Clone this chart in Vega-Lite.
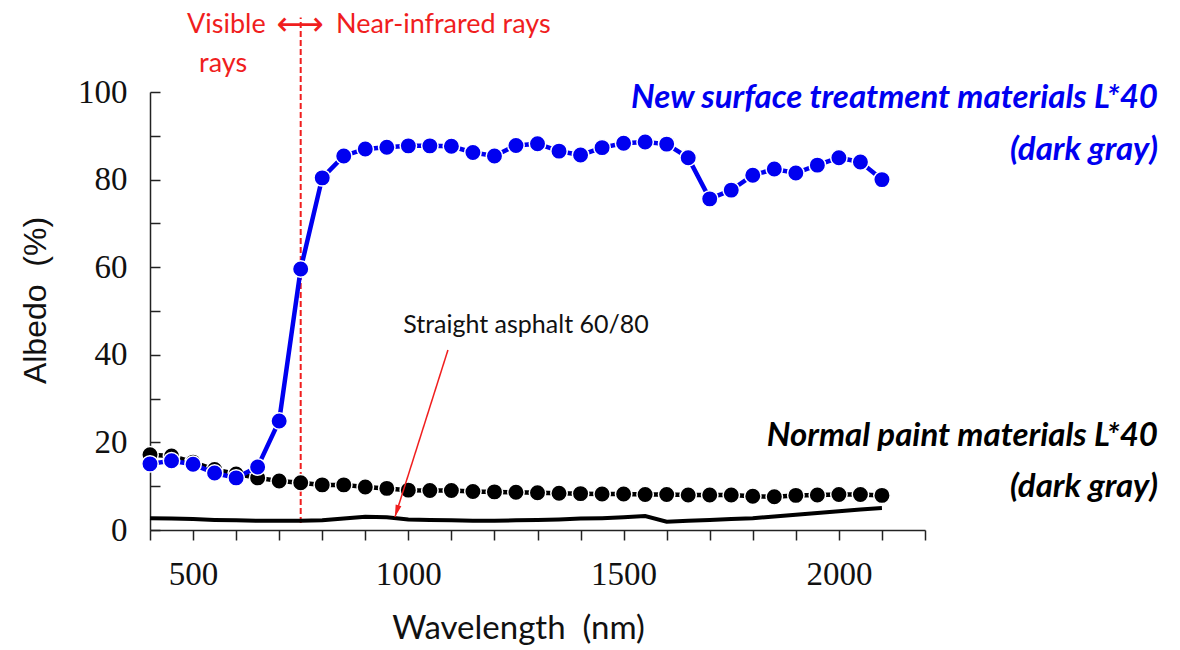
{
  "$schema": "https://vega.github.io/schema/vega-lite/v6.json",
  "width": 775,
  "height": 438,
  "autosize": {"type": "none"},
  "padding": {"left": 150, "top": 92, "right": 255, "bottom": 120},
  "background": "white",
  "config": {
    "view": {"stroke": null},
    "axis": {"grid": false, "domainColor": "#222", "tickColor": "#222", "domainWidth": 1.5, "tickWidth": 1.5, "labelColor": "#111", "titleColor": "#111", "labelFlush": false, "labelOverlap": false}
  },
  "datasets": {
    "series": [
      {"wl": 400, "val": 15.1, "s": "new"}, {"wl": 450, "val": 15.8, "s": "new"}, {"wl": 500, "val": 15.0, "s": "new"}, {"wl": 550, "val": 13.0, "s": "new"}, {"wl": 600, "val": 11.9, "s": "new"}, {"wl": 650, "val": 14.4, "s": "new"}, {"wl": 700, "val": 24.9, "s": "new"}, {"wl": 750, "val": 59.6, "s": "new"}, {"wl": 800, "val": 80.4, "s": "new"}, {"wl": 850, "val": 85.4, "s": "new"}, {"wl": 900, "val": 87.0, "s": "new"}, {"wl": 950, "val": 87.4, "s": "new"}, {"wl": 1000, "val": 87.7, "s": "new"}, {"wl": 1050, "val": 87.7, "s": "new"}, {"wl": 1100, "val": 87.6, "s": "new"}, {"wl": 1150, "val": 86.2, "s": "new"}, {"wl": 1200, "val": 85.4, "s": "new"}, {"wl": 1250, "val": 87.8, "s": "new"}, {"wl": 1300, "val": 88.2, "s": "new"}, {"wl": 1350, "val": 86.5, "s": "new"}, {"wl": 1400, "val": 85.6, "s": "new"}, {"wl": 1450, "val": 87.3, "s": "new"}, {"wl": 1500, "val": 88.3, "s": "new"}, {"wl": 1550, "val": 88.6, "s": "new"}, {"wl": 1600, "val": 88.1, "s": "new"}, {"wl": 1650, "val": 85.0, "s": "new"}, {"wl": 1700, "val": 75.6, "s": "new"}, {"wl": 1750, "val": 77.6, "s": "new"}, {"wl": 1800, "val": 81.0, "s": "new"}, {"wl": 1850, "val": 82.4, "s": "new"}, {"wl": 1900, "val": 81.5, "s": "new"}, {"wl": 1950, "val": 83.3, "s": "new"}, {"wl": 2000, "val": 85.0, "s": "new"}, {"wl": 2050, "val": 84.0, "s": "new"}, {"wl": 2100, "val": 80.0, "s": "new"},
      {"wl": 400, "val": 17.2, "s": "normal"}, {"wl": 450, "val": 16.9, "s": "normal"}, {"wl": 500, "val": 15.5, "s": "normal"}, {"wl": 550, "val": 13.8, "s": "normal"}, {"wl": 600, "val": 12.8, "s": "normal"}, {"wl": 650, "val": 11.9, "s": "normal"}, {"wl": 700, "val": 11.2, "s": "normal"}, {"wl": 750, "val": 10.8, "s": "normal"}, {"wl": 800, "val": 10.3, "s": "normal"}, {"wl": 850, "val": 10.3, "s": "normal"}, {"wl": 900, "val": 9.8, "s": "normal"}, {"wl": 950, "val": 9.5, "s": "normal"}, {"wl": 1000, "val": 9.1, "s": "normal"}, {"wl": 1050, "val": 9.0, "s": "normal"}, {"wl": 1100, "val": 9.0, "s": "normal"}, {"wl": 1150, "val": 8.8, "s": "normal"}, {"wl": 1200, "val": 8.7, "s": "normal"}, {"wl": 1250, "val": 8.6, "s": "normal"}, {"wl": 1300, "val": 8.5, "s": "normal"}, {"wl": 1350, "val": 8.4, "s": "normal"}, {"wl": 1400, "val": 8.3, "s": "normal"}, {"wl": 1450, "val": 8.2, "s": "normal"}, {"wl": 1500, "val": 8.2, "s": "normal"}, {"wl": 1550, "val": 8.1, "s": "normal"}, {"wl": 1600, "val": 8.1, "s": "normal"}, {"wl": 1650, "val": 8.0, "s": "normal"}, {"wl": 1700, "val": 8.0, "s": "normal"}, {"wl": 1750, "val": 8.0, "s": "normal"}, {"wl": 1800, "val": 7.7, "s": "normal"}, {"wl": 1850, "val": 7.6, "s": "normal"}, {"wl": 1900, "val": 7.9, "s": "normal"}, {"wl": 1950, "val": 8.0, "s": "normal"}, {"wl": 2000, "val": 8.1, "s": "normal"}, {"wl": 2050, "val": 8.1, "s": "normal"}, {"wl": 2100, "val": 7.9, "s": "normal"},
      {"wl": 400, "val": 2.7, "s": "asphalt"}, {"wl": 450, "val": 2.6, "s": "asphalt"}, {"wl": 500, "val": 2.5, "s": "asphalt"}, {"wl": 550, "val": 2.3, "s": "asphalt"}, {"wl": 600, "val": 2.2, "s": "asphalt"}, {"wl": 650, "val": 2.1, "s": "asphalt"}, {"wl": 700, "val": 2.1, "s": "asphalt"}, {"wl": 750, "val": 2.1, "s": "asphalt"}, {"wl": 800, "val": 2.2, "s": "asphalt"}, {"wl": 850, "val": 2.6, "s": "asphalt"}, {"wl": 900, "val": 3.0, "s": "asphalt"}, {"wl": 950, "val": 2.9, "s": "asphalt"}, {"wl": 1000, "val": 2.4, "s": "asphalt"}, {"wl": 1050, "val": 2.3, "s": "asphalt"}, {"wl": 1100, "val": 2.2, "s": "asphalt"}, {"wl": 1150, "val": 2.1, "s": "asphalt"}, {"wl": 1200, "val": 2.1, "s": "asphalt"}, {"wl": 1250, "val": 2.2, "s": "asphalt"}, {"wl": 1300, "val": 2.3, "s": "asphalt"}, {"wl": 1350, "val": 2.4, "s": "asphalt"}, {"wl": 1400, "val": 2.6, "s": "asphalt"}, {"wl": 1450, "val": 2.7, "s": "asphalt"}, {"wl": 1500, "val": 2.9, "s": "asphalt"}, {"wl": 1550, "val": 3.2, "s": "asphalt"}, {"wl": 1600, "val": 1.9, "s": "asphalt"}, {"wl": 1650, "val": 2.1, "s": "asphalt"}, {"wl": 1700, "val": 2.3, "s": "asphalt"}, {"wl": 1750, "val": 2.5, "s": "asphalt"}, {"wl": 1800, "val": 2.7, "s": "asphalt"}, {"wl": 1850, "val": 3.1, "s": "asphalt"}, {"wl": 1900, "val": 3.5, "s": "asphalt"}, {"wl": 1950, "val": 3.9, "s": "asphalt"}, {"wl": 2000, "val": 4.3, "s": "asphalt"}, {"wl": 2050, "val": 4.7, "s": "asphalt"}, {"wl": 2100, "val": 5.0, "s": "asphalt"}
    ],
    "redtext": [
      {"t": "Visible", "x": 486, "y": 115.3},
      {"t": "rays", "x": 514, "y": 106.5},
      {"t": "Near-infrared rays", "x": 832, "y": 115.3}
    ],
    "bluetext": [
      {"t": "New surface treatment materials L*40", "x": 2741, "y": 98.6},
      {"t": "(dark gray)", "x": 2741, "y": 86.8}
    ],
    "blacktext": [
      {"t": "Normal paint materials L*40", "x": 2741, "y": 21.5},
      {"t": "(dark gray)", "x": 2741, "y": 9.8}
    ]
  },
  "layer": [
    {
      "data": {"values": [{"x": 750, "y": 1.6, "y2": 117}]},
      "mark": {"type": "rule", "color": "#f01e1e", "strokeWidth": 2, "strokeDash": [6, 3]},
      "encoding": {
        "x": {"field": "x", "type": "quantitative", "scale": {"domain": [400, 2200], "nice": false, "zero": false},
          "axis": {"values": [400, 500, 600, 700, 800, 900, 1000, 1100, 1200, 1300, 1400, 1500, 1600, 1700, 1800, 1900, 2000, 2100, 2200], "format": "d", "labelExpr": "datum.value % 500 == 0 ? datum.label : ''", "tickSize": 10, "labelPadding": 18, "labelFont": "Liberation Serif", "labelFontSize": 33, "title": "Wavelength\u00a0\u00a0(nm)", "titleFont": "Lato", "titleFontSize": 33, "titleFontWeight": "normal", "titleX": 368, "titleY": 98, "titleBaseline": "middle", "titleAlign": "center"}},
        "y": {"field": "y", "type": "quantitative", "scale": {"domain": [0, 100], "nice": false},
          "axis": {"values": [0, 10, 20, 30, 40, 50, 60, 70, 80, 90, 100], "labelExpr": "datum.value % 20 == 0 ? datum.label : ''", "tickSize": -10, "labelPadding": 33, "labelFont": "Liberation Serif", "labelFontSize": 33, "title": "Albedo\u00a0\u00a0(%)", "titleFont": "Liberation Sans", "titleFontSize": 32, "titleFontWeight": "normal", "titleAngle": -90, "titleX": -115, "titleY": 208, "titleBaseline": "middle", "titleAlign": "center"}},
        "y2": {"field": "y2"}
      }
    },
    {
      "data": {"name": "series"},
      "transform": [{"filter": "datum.s == 'asphalt'"}],
      "mark": {"type": "line", "color": "#000", "strokeWidth": 4},
      "encoding": {"x": {"field": "wl", "type": "quantitative"}, "y": {"field": "val", "type": "quantitative"}}
    },
    {
      "data": {"name": "series"},
      "transform": [{"filter": "datum.s == 'normal'"}],
      "mark": {"type": "line", "color": "#000", "strokeWidth": 4.5},
      "encoding": {"x": {"field": "wl", "type": "quantitative"}, "y": {"field": "val", "type": "quantitative"}}
    },
    {
      "data": {"name": "series"},
      "transform": [{"filter": "datum.s == 'normal'"}],
      "mark": {"type": "point", "filled": true, "color": "#000", "size": 270, "stroke": "white", "strokeWidth": 1.5, "opacity": 1},
      "encoding": {"x": {"field": "wl", "type": "quantitative"}, "y": {"field": "val", "type": "quantitative"}}
    },
    {
      "data": {"name": "series"},
      "transform": [{"filter": "datum.s == 'new'"}],
      "mark": {"type": "line", "color": "#0000f0", "strokeWidth": 4.5},
      "encoding": {"x": {"field": "wl", "type": "quantitative"}, "y": {"field": "val", "type": "quantitative"}}
    },
    {
      "data": {"name": "series"},
      "transform": [{"filter": "datum.s == 'new'"}],
      "mark": {"type": "point", "filled": true, "fill": "#0000f0", "size": 270, "stroke": "white", "strokeWidth": 1.5, "opacity": 1},
      "encoding": {"x": {"field": "wl", "type": "quantitative"}, "y": {"field": "val", "type": "quantitative"}}
    },
    {
      "data": {"values": [{"x": 1092, "y": 41.1, "x2": 969, "y2": 3.0}]},
      "mark": {"type": "rule", "color": "#f01e1e", "strokeWidth": 1.5},
      "encoding": {"x": {"field": "x", "type": "quantitative"}, "y": {"field": "y", "type": "quantitative"}, "x2": {"field": "x2"}, "y2": {"field": "y2"}}
    },
    {
      "data": {"values": [{"x": 973, "y": 4.3}]},
      "mark": {"type": "point", "filled": true, "color": "#f01e1e", "shape": "M0,-1L0.5,1L-0.5,1Z", "size": 144, "angle": 197.6, "opacity": 1},
      "encoding": {"x": {"field": "x", "type": "quantitative"}, "y": {"field": "y", "type": "quantitative"}}
    },
    {
      "data": {"name": "redtext"},
      "mark": {"type": "text", "font": "Lato", "fontSize": 27, "color": "#f01e1e", "align": "left", "baseline": "middle"},
      "encoding": {"x": {"field": "x", "type": "quantitative"}, "y": {"field": "y", "type": "quantitative"}, "text": {"field": "t"}}
    },
    {
      "data": {"values": [{"t": "⟷", "x": 748, "y": 115.3}]},
      "mark": {"type": "text", "font": "DejaVu Sans", "fontSize": 33, "color": "#f01e1e", "align": "center", "baseline": "middle"},
      "encoding": {"x": {"field": "x", "type": "quantitative"}, "y": {"field": "y", "type": "quantitative"}, "text": {"field": "t"}}
    },
    {
      "data": {"name": "bluetext"},
      "mark": {"type": "text", "font": "Lato", "fontSize": 33, "fontWeight": "bold", "fontStyle": "italic", "color": "#0000f0", "align": "right", "baseline": "middle"},
      "encoding": {"x": {"field": "x", "type": "quantitative"}, "y": {"field": "y", "type": "quantitative"}, "text": {"field": "t"}}
    },
    {
      "data": {"name": "blacktext"},
      "mark": {"type": "text", "font": "Lato", "fontSize": 33, "fontWeight": "bold", "fontStyle": "italic", "color": "#000", "align": "right", "baseline": "middle"},
      "encoding": {"x": {"field": "x", "type": "quantitative"}, "y": {"field": "y", "type": "quantitative"}, "text": {"field": "t"}}
    },
    {
      "data": {"values": [{"t": "Straight asphalt 60/80", "x": 988, "y": 46.8}]},
      "mark": {"type": "text", "font": "Lato", "fontSize": 25, "color": "#111", "align": "left", "baseline": "middle"},
      "encoding": {"x": {"field": "x", "type": "quantitative"}, "y": {"field": "y", "type": "quantitative"}, "text": {"field": "t"}}
    }
  ]
}
